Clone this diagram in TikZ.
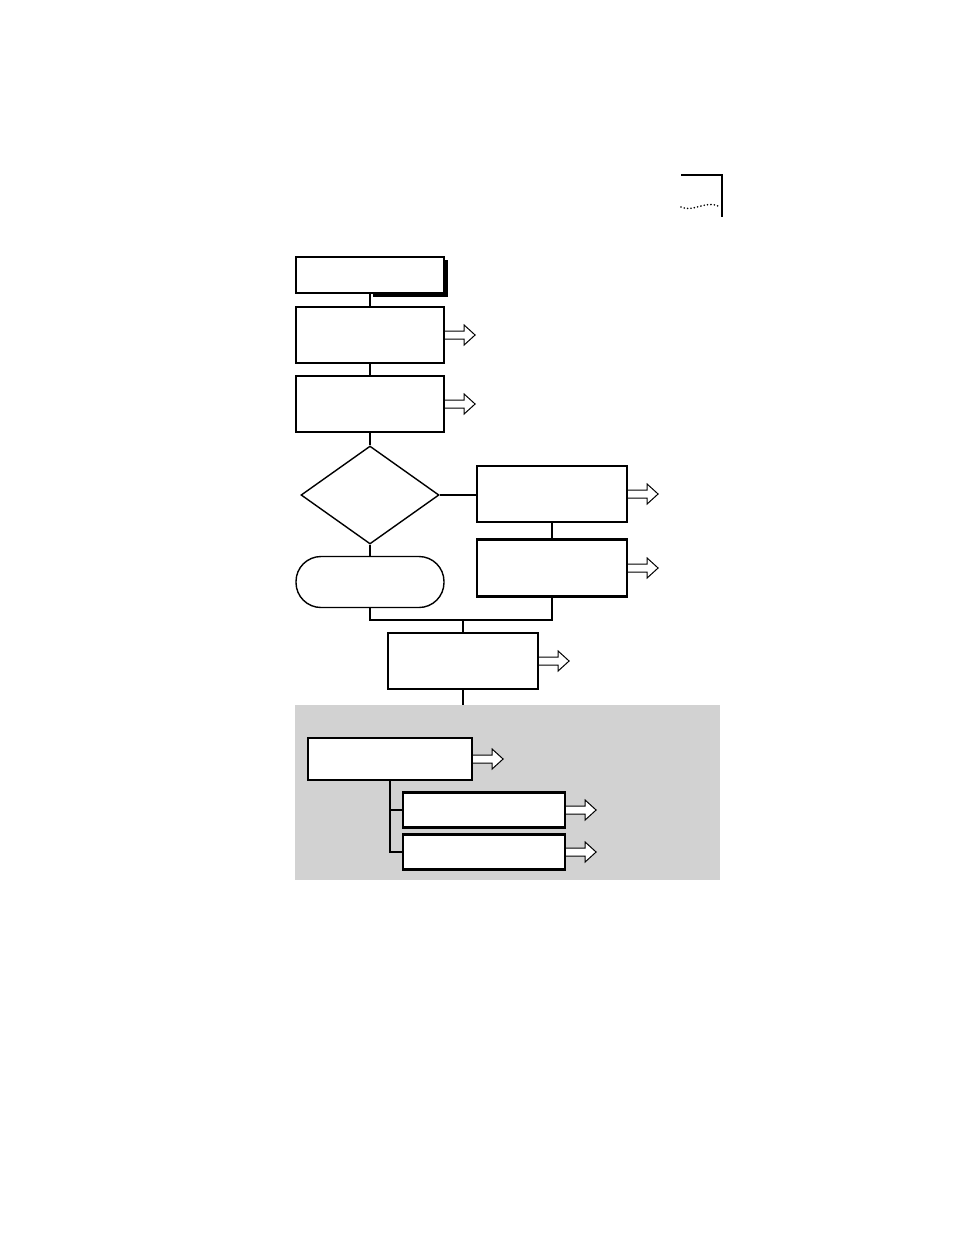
\documentclass[tikz,border=0pt]{standalone}
\usepackage{tikz}
\usetikzlibrary{calc,shapes.geometric}
\definecolor{panelgray}{RGB}{210,210,210}
\tikzset{
  procbox/.style={draw,line width=2.2pt,fill=white,inner sep=0pt},
  decision/.style={draw,diamond,line width=1.4pt,inner sep=0pt,minimum width=138pt,minimum height=98pt},
  terminal/.style={draw,rectangle,rounded corners=25pt,line width=1.4pt,inner sep=0pt,minimum width=148pt,minimum height=51pt},
  link/.style={line width=1.2pt},
  blockarrow/.style={draw=black,line width=1pt,fill=white,line join=miter}
}
\begin{document}
\begin{tikzpicture}[x=1pt,y=-1pt]
  \useasboundingbox (0,0) rectangle (954,1235);
  % corner mark
  \draw[line width=1.3pt] (681,175) -- (722,175) -- (722,217);
  \draw[line width=1.8pt,line cap=round,dash pattern=on 0pt off 3.4pt] (681,207) .. controls (694,213) and (706,199) .. (720,207);
  % shaded panel
  \fill[panelgray] (295,705) rectangle (720,880);
  % main column
  \fill (373,279) rectangle (448,297);
  \fill (444,260) rectangle (448,297);
  \node[procbox,minimum width=148pt,minimum height=36pt] (start) at (370,275) {};
  \node[procbox,minimum width=148pt,minimum height=56pt] (stepone) at (370,335) {};
  \node[procbox,minimum width=148pt,minimum height=56pt] (steptwo) at (370,404) {};
  \node[decision] (choice) at (370,495) {};
  \node[terminal] (finish) at (370,582) {};
  \node[procbox,minimum width=150pt,minimum height=56pt] (sideone) at (552,494) {};
  \node[procbox,minimum width=150pt,minimum height=57pt] (sidetwo) at (552,568) {};
  \node[procbox,minimum width=150pt,minimum height=56pt] (merged) at (463,661) {};
  \coordinate (join) at (463,620);
  \coordinate (paneltop) at (463,705);
  % panel boxes
  \node[procbox,minimum width=164pt,minimum height=42pt] (group) at (390,759) {};
  \node[procbox,minimum width=162pt,minimum height=35pt] (subone) at (484,810) {};
  \node[procbox,minimum width=162pt,minimum height=35pt] (subtwo) at (484,852) {};
  % connectors
  \draw[link] (start.south) -- (stepone.north);
  \draw[link] (stepone.south) -- (steptwo.north);
  \draw[link] (steptwo.south) -- (choice.north);
  \draw[link] (choice.east) -- (sideone.west |- choice.east);
  \draw[link] (choice.south) -- (finish.north);
  \draw[link] (sideone.south) -- (sidetwo.north);
  \draw[link] (finish.south) |- (join) -| (sidetwo.south);
  \draw[link] (join) -- (merged.north);
  \draw[link] (merged.south) -- (paneltop);
  \draw[link] (group.south) |- (subtwo.west);
  \draw[link] (group.south |- subone.west) -- (subone.west);
  % outgoing block arrows
  \foreach \n in {stepone,steptwo,sideone,sidetwo,merged,group,subone,subtwo}
    \draw[blockarrow] ($(\n.east)+(0,-4)$) -- ++(19,0) -- ++(0,-6) -- ++(11,10) -- ++(-11,10) -- ++(0,-6) -- ++(-19,0);
\end{tikzpicture}
\end{document}
